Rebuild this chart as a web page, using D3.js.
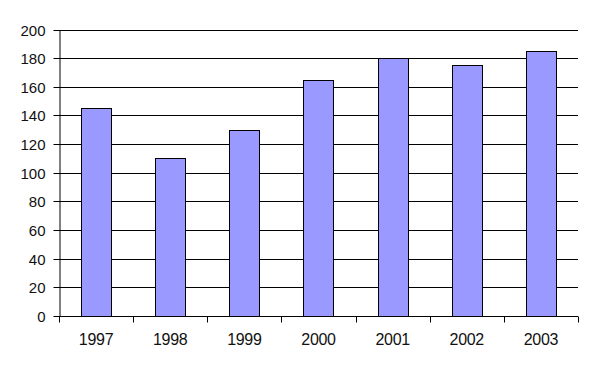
<!DOCTYPE html>
<html>
<head>
<meta charset="utf-8">
<script src="https://cdn.jsdelivr.net/npm/d3@7"></script>
<style>
  body { margin: 0; background: #fff; }
  svg text { font-family: Arial, "Liberation Sans", sans-serif; font-size: 15px; fill: #111; }
</style>
</head>
<body>
<svg id="chart" width="595" height="369"></svg>
<script>
// data
const years = ["1997", "1998", "1999", "2000", "2001", "2002", "2003"];
const values = [145, 110, 130, 165, 180, 175, 185];
const yTicks = [0, 20, 40, 60, 80, 100, 120, 140, 160, 180, 200];

const svg = d3.select("#chart");
const plotLeft = 59, plotRight = 578, plotTop = 29.5, plotBottom = 316;

const x = d3.scaleBand().domain(years).range([plotLeft, plotRight]).padding(0);
const y = d3.scaleLinear().domain([0, 200]).range([plotBottom, plotTop]);
const barW = x.bandwidth() * 0.405;

// gridlines
svg.append("g")
  .selectAll("line")
  .data(yTicks.slice(1))
  .join("line")
  .attr("x1", plotLeft).attr("x2", plotRight)
  .attr("y1", d => Math.round(y(d)) + 0.5)
  .attr("y2", d => Math.round(y(d)) + 0.5)
  .attr("stroke", "#000");

// bars
svg.append("g")
  .selectAll("rect")
  .data(values)
  .join("rect")
  .attr("x", (d, i) => Math.round(x(years[i]) + (x.bandwidth() - barW) / 2) + 0.5)
  .attr("y", d => Math.round(y(d)) + 0.5)
  .attr("width", Math.round(barW))
  .attr("height", d => Math.round(y(0)) - Math.round(y(d)))
  .attr("fill", "#9999FF")
  .attr("stroke", "#000");

// y axis
const yAxis = svg.append("g")
  .attr("transform", `translate(${plotLeft + 0.5},0)`)
  .call(d3.axisLeft(y).tickValues(yTicks).tickSize(6).tickPadding(8).tickSizeOuter(0));
yAxis.select(".domain").attr("stroke", "#000");
yAxis.selectAll(".tick line").attr("stroke", "#000");
yAxis.selectAll(".tick").attr("transform", d => `translate(0,${Math.round(y(d)) + 0.5})`);
yAxis.selectAll("text").style("font-size", "15px").attr("font-family", null).attr("fill", null).attr("dy", "0.35em");

// x axis with boundary ticks
const xg = svg.append("g").attr("transform", `translate(0,${Math.round(y(0)) + 0.5})`);
xg.append("line").attr("x1", plotLeft).attr("x2", plotRight).attr("stroke", "#000");
xg.selectAll("line.tk")
  .data(d3.range(years.length + 1))
  .join("line")
  .attr("class", "tk")
  .attr("x1", i => Math.round(plotLeft + i * x.step()) + 0.5)
  .attr("x2", i => Math.round(plotLeft + i * x.step()) + 0.5)
  .attr("y1", 0).attr("y2", 6)
  .attr("stroke", "#000");
xg.selectAll("text")
  .data(years)
  .join("text")
  .attr("x", d => x(d) + x.bandwidth() / 2)
  .attr("y", 28)
  .attr("text-anchor", "middle")
  .style("font-size", "16px")
  .style("letter-spacing", "-0.3px")
  .text(d => d);
</script>
</body>
</html>
